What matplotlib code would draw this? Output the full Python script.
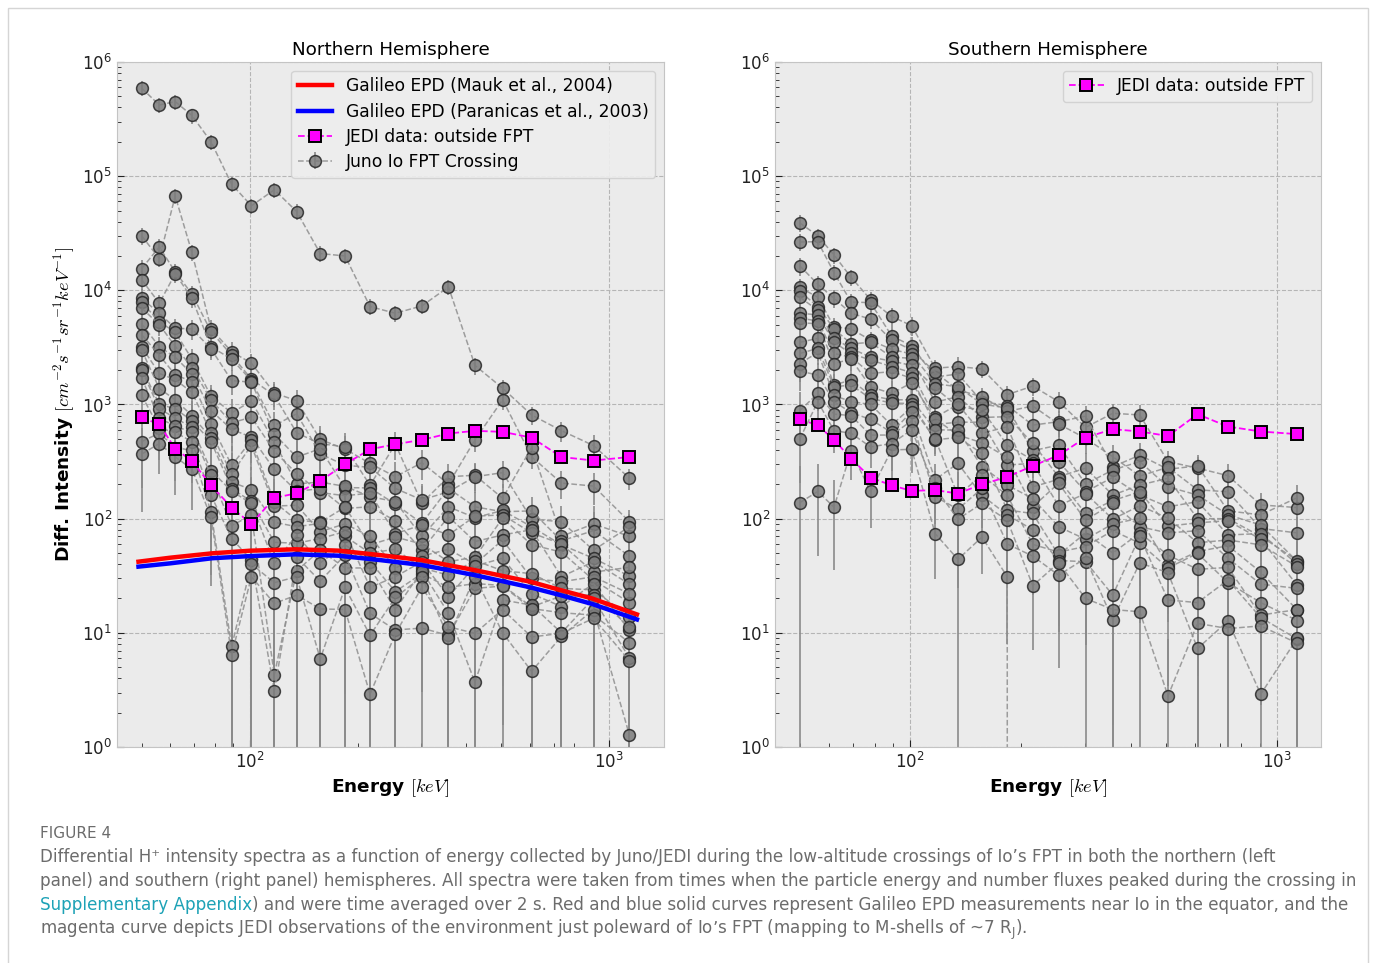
import numpy as np
import matplotlib.pyplot as plt
from matplotlib.patches import Rectangle
from matplotlib.ticker import NullFormatter

nan = np.nan

# JEDI energy channels [keV]
energy = [50, 56, 62, 69, 78, 89, 101, 117, 135, 157, 184, 216, 254, 301,
          357, 423, 505, 608, 736, 904, 1138]

# Northern hemisphere: Io FPT crossing spectra
north_top = [590000, 420000, 450000, 340000, 200000, 85000, 55000, 76000, 49000, 21000,
             20000, 7200, 6300, 7300, 10700, 2200, 1390, 810, 590, 437, 226]
n01 = [30000, 19000, 67000, 21500, 4600, 2900, 2300, 1260, 1080, 494, 407, 305, 233, 309, 201, 490, 1100, 349, 205, 193, 94]
n02 = [15500, 24000, 14500, 9300, 4350, 2700, 1670, 1200, 565, 453, 427, 196, 450, 137, 233, 240, 151, 420, 70, 90, 70]
n03 = [12400, 7700, 14000, 8500, 3200, 2500, 1620, 655, 830, 370, 293, 282, 184, 146, 172, 233, 253, 99, 94, 53, 85]
n04 = [8500, 6300, 4650, 4600, 3070, 1620, 1570, 550, 346, 410, 187, 186, 134, 91, 184, 127, 115, 117, 64, 78.5, 47]
n05 = [7900, 5300, 4300, 2500, 1180, 845, 1070, 467, 202, 209, 192, 156, 141, 70, 127, 102, 118, 85, 59, 45, 31.4]
n06 = [7000, 5000, 3240, 2100, 1100, 690, 775, 390, 248, 169, 159, 167, 74, 88, 72, 105, 108, 75, 60, 34, 37.5]
n07 = [5100, 3200, 2600, 1850, 885, 605, 518, 270, 174, 183, 123, 127, 96, 53, 104, 63, 72, 80, 31, 42, 26.7]
n08 = [4100, 2700, 1820, 1590, 680, 293, 484, 140, 97, 93, 126, 59, 69, 60, 42, 46, 101, 59, 51, 29, 18.4]
n09 = [3200, 1870, 1650, 1280, 566, 248, 438, 129, 131, 77, 90, 70, 37, 47, 54, 40, 65, 30, 28, 31, 22]
n10 = [3000, 1380, 1100, 800, 508, 209, 180, 93, 85, 91, 70, 50, 54, 37, 32, 43, 35, 33, 24.5, 23.8, 13.8]
n11 = [2100, 1000, 920, 720, 474, 183, 142, 62, 61, 67, 77, 25, 31, 42, 20.7, 38.5, 45, 22, 17, 27, 10.5]
n12 = [2000, 920, 760, 630, 264, 174, 136, 40.6, 72, 41, 59, 42, 23, 33, 25, 27, 26, 16.9, 21, 21.5, 11.3]
n13 = [1700, 760, 645, 573, 240, 87, 107, 4.3, 35, 53, 37, 37, 16, 35, 14.8, 3.7, 19.4, 17.5, 10, 20, 6.0]
n14 = [1200, 620, 570, 474, 160, 67, 43.5, 3.1, 46, 28.4, 48, 14.8, 10.6, 11, 9.5, 24.5, 25.7, 16.3, 15, 14.3, 8.2]
n15 = [474, 560, 420, 396, 114, 7.6, 40, 27.5, 31, 5.9, 25, 9.5, 20.4, 31, 9.1, 31, 10, 4.6, 9.3, 16, 1.27]
n16 = [368, 455, 347, 273, 103, 6.4, 31, 18.1, 21.4, 16.2, 16, 2.9, 9.8, 25, 11.3, 9.9, 16, 9.2, 9.9, 13.4, 5.7]
north_jedi = [770, 670, 410, 320, 196, 125, 90, 152, 167, 214, 300, 405, 449, 490, 557, 588, 576, 513, 347, 323, 347]
# per-channel counting scale
north_count_scale = [91, 70, 75, 75, 66, 75, 75, 75, 75, 75, 75, 75, 75, 75, 75, 75, 80, 75, 90, 115, 75]

# Southern hemisphere: Io FPT crossing spectra
s01 = [39000, 30000, 20400, 13000, 8300, 5900, 4900, 2080, 2150, 2050, 1220, 1450, 1060, 630, 838, 810, 316, 277, 238, 132, 125]
s02 = [26500, 26700, 14300, 7900, 7800, 4000, 3260, 1740, 1850, 1060, 980, 660, 707, 790, 285, 360, 271, 290, 117, 108, 153]
s03 = [16400, 11300, 8500, 6300, 5600, 3660, 3000, 1920, 1340, 1170, 870, 970, 675, 506, 349, 236, 282, 179, 172, 82, 75]
s04 = [10600, 8700, 4800, 4600, 3660, 3040, 2770, 1520, 1430, 1010, 930, 394, 441, 201, 267, 316, 190, 161, 108, 88, 42]
s05 = [9800, 7200, 4600, 3400, 3500, 2600, 2540, 1050, 1170, 770, 782, 457, 233, 277, 161, 197, 226, 100, 100, 70, 43]
s06 = [8700, 6700, 3800, 3100, 2600, 2400, 2200, 1400, 955, 900, 441, 326, 316, 172, 230, 161, 127, 141, 72, 74, 40]
s07 = [6300, 6100, 3500, 2800, 2450, 2150, 1900, 770, 1000, 560, 638, 190, 221, 111, 144, 172, 86, 92, 96, 66, 26]
s08 = [5700, 5400, 2800, 2600, 1870, 1940, 1700, 668, 700, 700, 295, 305, 130, 166, 99, 130, 101, 61.6, 65, 59, 38]
s09 = [5200, 5100, 2280, 2500, 1430, 1250, 1550, 748, 540, 462, 344, 127, 204, 97, 136, 85, 75, 78.5, 45, 26.7, 24.5]
s10 = [3500, 3800, 1480, 1640, 1200, 1100, 1100, 600, 597, 285, 197, 150, 85, 66, 90, 101, 39, 51.5, 58, 34, 15.8]
s11 = [2800, 3100, 1430, 1480, 1130, 1030, 1020, 490, 515, 373, 119, 111, 48, 75, 50, 75, 48, 36, 37.4, 14.3, 16]
s12 = [2280, 2860, 1200, 1060, 1000, 660, 950, 500, 160, 240, 160, 59.5, 51, 57, 78.5, 61, 37, 49.7, 27.5, 18.4, 12.8]
s13 = [1960, 1810, 1060, 850, 740, 570, 865, 220, 305, 160, 108, 80, 43, 42, 21.4, 70, 19.4, 18.4, 29, 13.6, 8.8]
s14 = [883, 1250, 824, 800, 540, 540, 720, 156, 121, 184, 60, 47, 32, 45, 13, 41, 33.6, 7.3, 12.7, 2.9, 9]
s15 = [499, 1060, 590, 560, 425, 455, 600, 186, 99, 136, 97, 25.9, 41, 20, 16, 15.3, 2.8, 12.1, 10.9, 11.5, 8.1]
s16 = [138, 173, 126, 390, 173, 400, 405, 74, 44, 69, 31, 0, nan, nan, nan, nan, nan, nan, nan, nan, nan]
south_jedi = [743, 659, 490, 336, 229, 196, 175, 178, 166, 200, 232, 290, 359, 513, 608, 580, 530, 822, 641, 580, 550]
south_count_scale = [90, 70, 62, 67, 58, 80, 70, 54, 85, 52, 55, 53, 75, 90, 80, 90, 80, 80, 95, 80, 100]

# Galileo EPD reference spectra near Io
mauk_energy = [49, 60, 78.5, 100, 134, 176, 230, 300, 421, 604, 731, 896, 1194]
mauk_flux = [42, 45.5, 49.7, 52.4, 53.9, 52.5, 48, 43.4, 35.5, 28, 23.7, 20, 14.5]
paranicas_energy = [49, 60, 78.5, 100, 134, 176, 230, 300, 421, 604, 731, 896, 1194]
paranicas_flux = [38, 40.6, 45, 47, 48.7, 47.4, 43.4, 39.3, 32.1, 25, 21.4, 17.9, 13.1]

north_spectra = [north_top, n01, n02, n03, n04, n05, n06, n07, n08, n09, n10,
                 n11, n12, n13, n14, n15, n16]
south_spectra = [s01, s02, s03, s04, s05, s06, s07, s08, s09, s10, s11,
                 s12, s13, s14, s15, s16]

SYS_ERR = 0.15


def spectrum_errors(values, count_scale):
    v = np.asarray(values, dtype=float)
    e = np.asarray(energy, dtype=float)
    c = np.asarray(count_scale, dtype=float)
    with np.errstate(divide='ignore', invalid='ignore'):
        rel = np.sqrt(SYS_ERR ** 2 + c ** 2 / (v * e))
        upper = np.where(v > 0, v * rel, 0.0)
    lower = np.where(v > 0, np.minimum(upper, v), 0.0)
    return lower, upper


def draw_panel(ax, spectra, count_scale, jedi, title):
    for i, values in enumerate(spectra):
        lo, hi = spectrum_errors(values, count_scale)
        ax.errorbar(energy, values, yerr=[lo, hi], fmt='o', ls='--', lw=1.1,
                    color='#8f8f8f', mfc='#7c7c7c', mec='#262626', mew=1.1,
                    ms=8.5, ecolor='#8a8a8a', elinewidth=1.4, alpha=0.85,
                    label='Juno Io FPT Crossing' if i == 0 else None, zorder=2)
    ax.plot(energy, jedi, ls='--', lw=1.3, color='#ff00ff', marker='s',
            ms=9, mfc='#ff00ff', mec='black', mew=1.4,
            label='JEDI data: outside FPT', zorder=5)

    ax.set_xscale('log')
    ax.set_yscale('log')
    ax.set_ylim(1, 1e6)
    ax.set_facecolor('#ebebeb')
    ax.grid(True, which='major', ls='--', lw=0.8, color='#b5b5b5')
    ax.set_axisbelow(True)
    for sp in ax.spines.values():
        sp.set_color('#c4c4c4')
    ax.tick_params(which='both', direction='in', labelsize=12, colors='#222222')
    ax.tick_params(which='major', length=5)
    ax.tick_params(which='minor', length=3)
    ax.xaxis.set_minor_formatter(NullFormatter())
    ax.set_title(title, fontsize=13.2, pad=5)
    ax.set_xlabel(r'Energy $[keV]$', fontsize=13.3, fontweight='bold',
                  math_fontfamily='cm')


fig = plt.figure(figsize=(13.75, 9.63), dpi=100)

ax_n = fig.add_axes([117 / 1375, 216 / 963, 547 / 1375, 685 / 963])
ax_s = fig.add_axes([775 / 1375, 216 / 963, 546 / 1375, 685 / 963])

ax_n.plot(mauk_energy, mauk_flux, color='red', lw=3.2,
          label='Galileo EPD (Mauk et al., 2004)', zorder=4)
ax_n.plot(paranicas_energy, paranicas_flux, color='blue', lw=3.2,
          label='Galileo EPD (Paranicas et al., 2003)', zorder=4)
draw_panel(ax_n, north_spectra, north_count_scale, north_jedi, 'Northern Hemisphere')
draw_panel(ax_s, south_spectra, south_count_scale, south_jedi, 'Southern Hemisphere')
ax_n.set_xlim(42.7, 1420)
ax_s.set_xlim(42.8, 1320)

ax_n.set_ylabel(r'Diff. Intensity $[cm^{-2}s^{-1}sr^{-1}keV^{-1}]$',
                fontsize=13.3, fontweight='bold', math_fontfamily='cm')

handles, labels = ax_n.get_legend_handles_labels()
order = [labels.index(l) for l in ['Galileo EPD (Mauk et al., 2004)',
                                   'Galileo EPD (Paranicas et al., 2003)',
                                   'JEDI data: outside FPT',
                                   'Juno Io FPT Crossing']]
leg_n = ax_n.legend([handles[i] for i in order], [labels[i] for i in order],
                    loc='upper right', fontsize=12.3, facecolor='#eeeeee',
                    edgecolor='#d0d0d0', framealpha=0.9, labelspacing=0.42)
leg_n.set_zorder(10)
hs, ls_ = ax_s.get_legend_handles_labels()
leg_s = ax_s.legend([hs[ls_.index('JEDI data: outside FPT')]],
                    ['JEDI data: outside FPT'], loc='upper right', fontsize=12.3,
                    facecolor='#eeeeee', edgecolor='#d0d0d0', framealpha=0.9)
leg_s.set_zorder(10)

# page frame and caption
fig.patches.append(Rectangle((8 / 1375, -0.05), 1360 / 1375, 0.05 + 955 / 963,
                             transform=fig.transFigure, fill=False,
                             edgecolor='#d5d5d5', lw=1))

cap_font = ['DejaVu Sans']
cap_color = '#6c6c6c'
link_color = '#1da2b6'
cap_size = 12.1
x0 = 40 / 1375


def ypos(px):
    return 1 - px / 963


fig.text(x0, ypos(838), 'FIGURE 4', family=cap_font, fontsize=11,
         color='#6c6c6c', va='baseline')
fig.text(x0, ypos(862), 'Differential H\u207a intensity spectra as a function of energy '
         'collected by Juno/JEDI during the low-altitude crossings of Io\u2019s FPT in '
         'both the northern (left', family=cap_font, fontsize=cap_size,
         color=cap_color, va='baseline')
fig.text(x0, ypos(886), 'panel) and southern (right panel) hemispheres. All spectra were '
         'taken from times when the particle energy and number fluxes peaked during '
         'the crossing in', family=cap_font, fontsize=cap_size, color=cap_color,
         va='baseline')
link = fig.text(x0, ypos(910), 'Supplementary Appendix', family=cap_font,
                fontsize=cap_size, color=link_color, va='baseline')
renderer = fig.canvas.get_renderer()
bb = link.get_window_extent(renderer)
fig.text(bb.x1 / fig.bbox.width, ypos(910), ') and were time averaged over 2 s. '
         'Red and blue solid curves represent Galileo EPD measurements near Io in '
         'the equator, and the', family=cap_font, fontsize=cap_size, color=cap_color,
         va='baseline')
fig.text(x0, ypos(934), 'magenta curve depicts JEDI observations of the environment '
         'just poleward of Io\u2019s FPT (mapping to M-shells of ~7 R$_{\\mathrm{J}}$).',
         family=cap_font, fontsize=cap_size, color=cap_color, va='baseline')

fig.savefig('out.png', dpi=100, facecolor='white')
